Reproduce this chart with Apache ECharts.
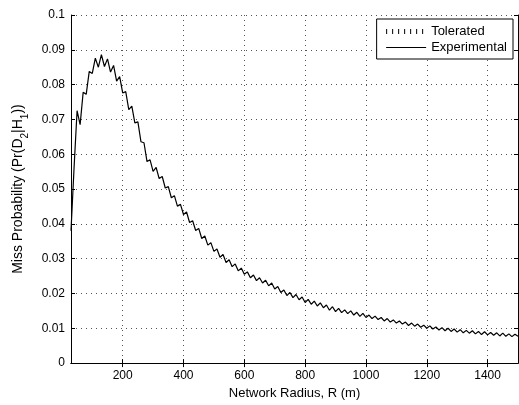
<!DOCTYPE html>
<html>
<head>
<meta charset="utf-8">
<script src="https://cdn.jsdelivr.net/npm/echarts@6/dist/echarts.min.js"></script>
<style>html,body{margin:0;padding:0;background:#fff}#c{width:519px;height:405px}</style>
</head>
<body>
<div id="c"></div>
<script>
const radius = [30,40,50,60,70,80,90,100,110,120,130,140,150,160,170,180,190,200,210,220,230,240,250,260,270,280,290,300,310,320,330,340,350,360,370,380,390,400,410,420,430,440,450,460,470,480,490,500,510,520,530,540,550,560,570,580,590,600,610,620,630,640,650,660,670,680,690,700,710,720,730,740,750,760,770,780,790,800,810,820,830,840,850,860,870,880,890,900,910,920,930,940,950,960,970,980,990,1000,1010,1020,1030,1040,1050,1060,1070,1080,1090,1100,1110,1120,1130,1140,1150,1160,1170,1180,1190,1200,1210,1220,1230,1240,1250,1260,1270,1280,1290,1300,1310,1320,1330,1340,1350,1360,1370,1380,1390,1400,1410,1420,1430,1440,1450,1460,1470,1480,1490,1500];
const experimental = [0.0380,0.0560,0.0725,0.0685,0.0778,0.0772,0.0838,0.0832,0.0876,0.0850,0.0886,0.0852,0.0874,0.0836,0.0855,0.0810,0.0823,0.0776,0.0780,0.0728,0.0738,0.0690,0.0693,0.0636,0.0633,0.0579,0.0584,0.0551,0.0562,0.0530,0.0536,0.0503,0.0507,0.0475,0.0481,0.0451,0.0456,0.0427,0.0434,0.0404,0.0409,0.0381,0.0387,0.0358,0.0365,0.0339,0.0346,0.0321,0.0328,0.0304,0.0312,0.0289,0.0297,0.0277,0.0285,0.0265,0.0273,0.0255,0.0262,0.0245,0.0253,0.0237,0.0245,0.0230,0.0238,0.0222,0.0230,0.0213,0.0220,0.0203,0.0210,0.0194,0.0203,0.0188,0.0197,0.0182,0.0190,0.0174,0.0183,0.0169,0.0178,0.0164,0.0173,0.0159,0.0167,0.0152,0.0162,0.0148,0.0157,0.0145,0.0153,0.0142,0.0150,0.0138,0.0146,0.0134,0.0143,0.0131,0.0138,0.0128,0.0135,0.0125,0.0131,0.0121,0.0128,0.0118,0.0124,0.0115,0.0121,0.0112,0.0118,0.0108,0.0115,0.0106,0.0112,0.0103,0.0109,0.0100,0.0107,0.0098,0.0104,0.0095,0.0102,0.0093,0.0100,0.0091,0.0098,0.0089,0.0096,0.0087,0.0094,0.0086,0.0093,0.0084,0.0091,0.0082,0.0090,0.0081,0.0088,0.0080,0.0087,0.0078,0.0086,0.0077,0.0084,0.0076,0.0083,0.0077];
const tolerated = [];
const xTicks = [200,400,600,800,1000,1200,1400];
const xRange = [30,1500];
const yRange = [0,0.1];
const yStep = 0.01;

const FONT = 'Liberation Sans, Arial, sans-serif';
const chart = echarts.init(document.getElementById('c'), null, {renderer:'canvas'});
const gridDot = {show:true, lineStyle:{color:'#555', width:1, type:[1,4]}};
const tickIn = {show:true, inside:true, length:4, lineStyle:{color:'#000'}};
const axisL = {show:true, lineStyle:{color:'#000', width:1}};
chart.setOption({
  animation:false,
  backgroundColor:'#fff',
  grid:{left:71, right:1, top:15, bottom:40, containLabel:false},
  legend:{
    orient:'vertical', right:6, top:19,
    backgroundColor:'#fff', borderColor:'#000', borderWidth:1, borderRadius:0,
    padding:[6,6,5,7], itemWidth:40, itemHeight:12, itemGap:3,
    itemStyle:{color:'rgba(0,0,0,0)', borderColor:'rgba(0,0,0,0)', borderWidth:0},
    textStyle:{color:'#000', fontSize:13, fontFamily:FONT},
    data:[
      {name:'Tolerated', lineStyle:{color:'#000', width:5, type:[1,5]}},
      {name:'Experimental', lineStyle:{color:'#000', width:1, type:'solid'}}
    ]
  },
  xAxis:[{
    type:'value', min:xRange[0], max:xRange[1], position:'bottom',
    name:'Network Radius, R (m)', nameLocation:'middle', nameGap:20,
    nameTextStyle:{color:'#000', fontSize:13, fontFamily:FONT},
    axisLine:axisL,
    axisTick:Object.assign({customValues:xTicks}, tickIn),
    axisLabel:{customValues:xTicks, color:'#000', fontSize:12, fontFamily:FONT, margin:7, formatter:v=>String(v)},
    splitLine:gridDot
  },{
    type:'value', min:xRange[0], max:xRange[1], position:'top',
    axisLine:axisL,
    axisTick:Object.assign({customValues:xTicks}, tickIn),
    axisLabel:{show:false}, splitLine:{show:false}
  }],
  yAxis:[{
    type:'value', min:yRange[0], max:yRange[1], interval:yStep, position:'left',
    name:'Miss Probability (Pr(D{s|2}|H{s|1}))', nameLocation:'middle', nameGap:46,
    nameTextStyle:{color:'#000', fontSize:14, fontFamily:FONT,
      rich:{s:{fontSize:10, verticalAlign:'bottom', padding:[0,0,-6,0], fontFamily:FONT, color:'#000'}}},
    axisLine:axisL, axisTick:tickIn,
    axisLabel:{color:'#000', fontSize:12, fontFamily:FONT, margin:6, formatter:v=>String(+v.toFixed(2))},
    splitLine:gridDot
  },{
    type:'value', min:yRange[0], max:yRange[1], interval:yStep, position:'right',
    axisLine:axisL, axisTick:tickIn, axisLabel:{show:false}, splitLine:{show:false}
  }],
  series:[
    {name:'Tolerated', type:'line', symbol:'none', data:tolerated,
     lineStyle:{color:'#000', width:5, type:[1,5]}, itemStyle:{color:'#000'}},
    {name:'Experimental', type:'line', symbol:'none',
     data:radius.map((r,i)=>[r, experimental[i]]),
     lineStyle:{color:'#000', width:1.2}, itemStyle:{color:'#000'}}
  ]
});
</script>
</body>
</html>
